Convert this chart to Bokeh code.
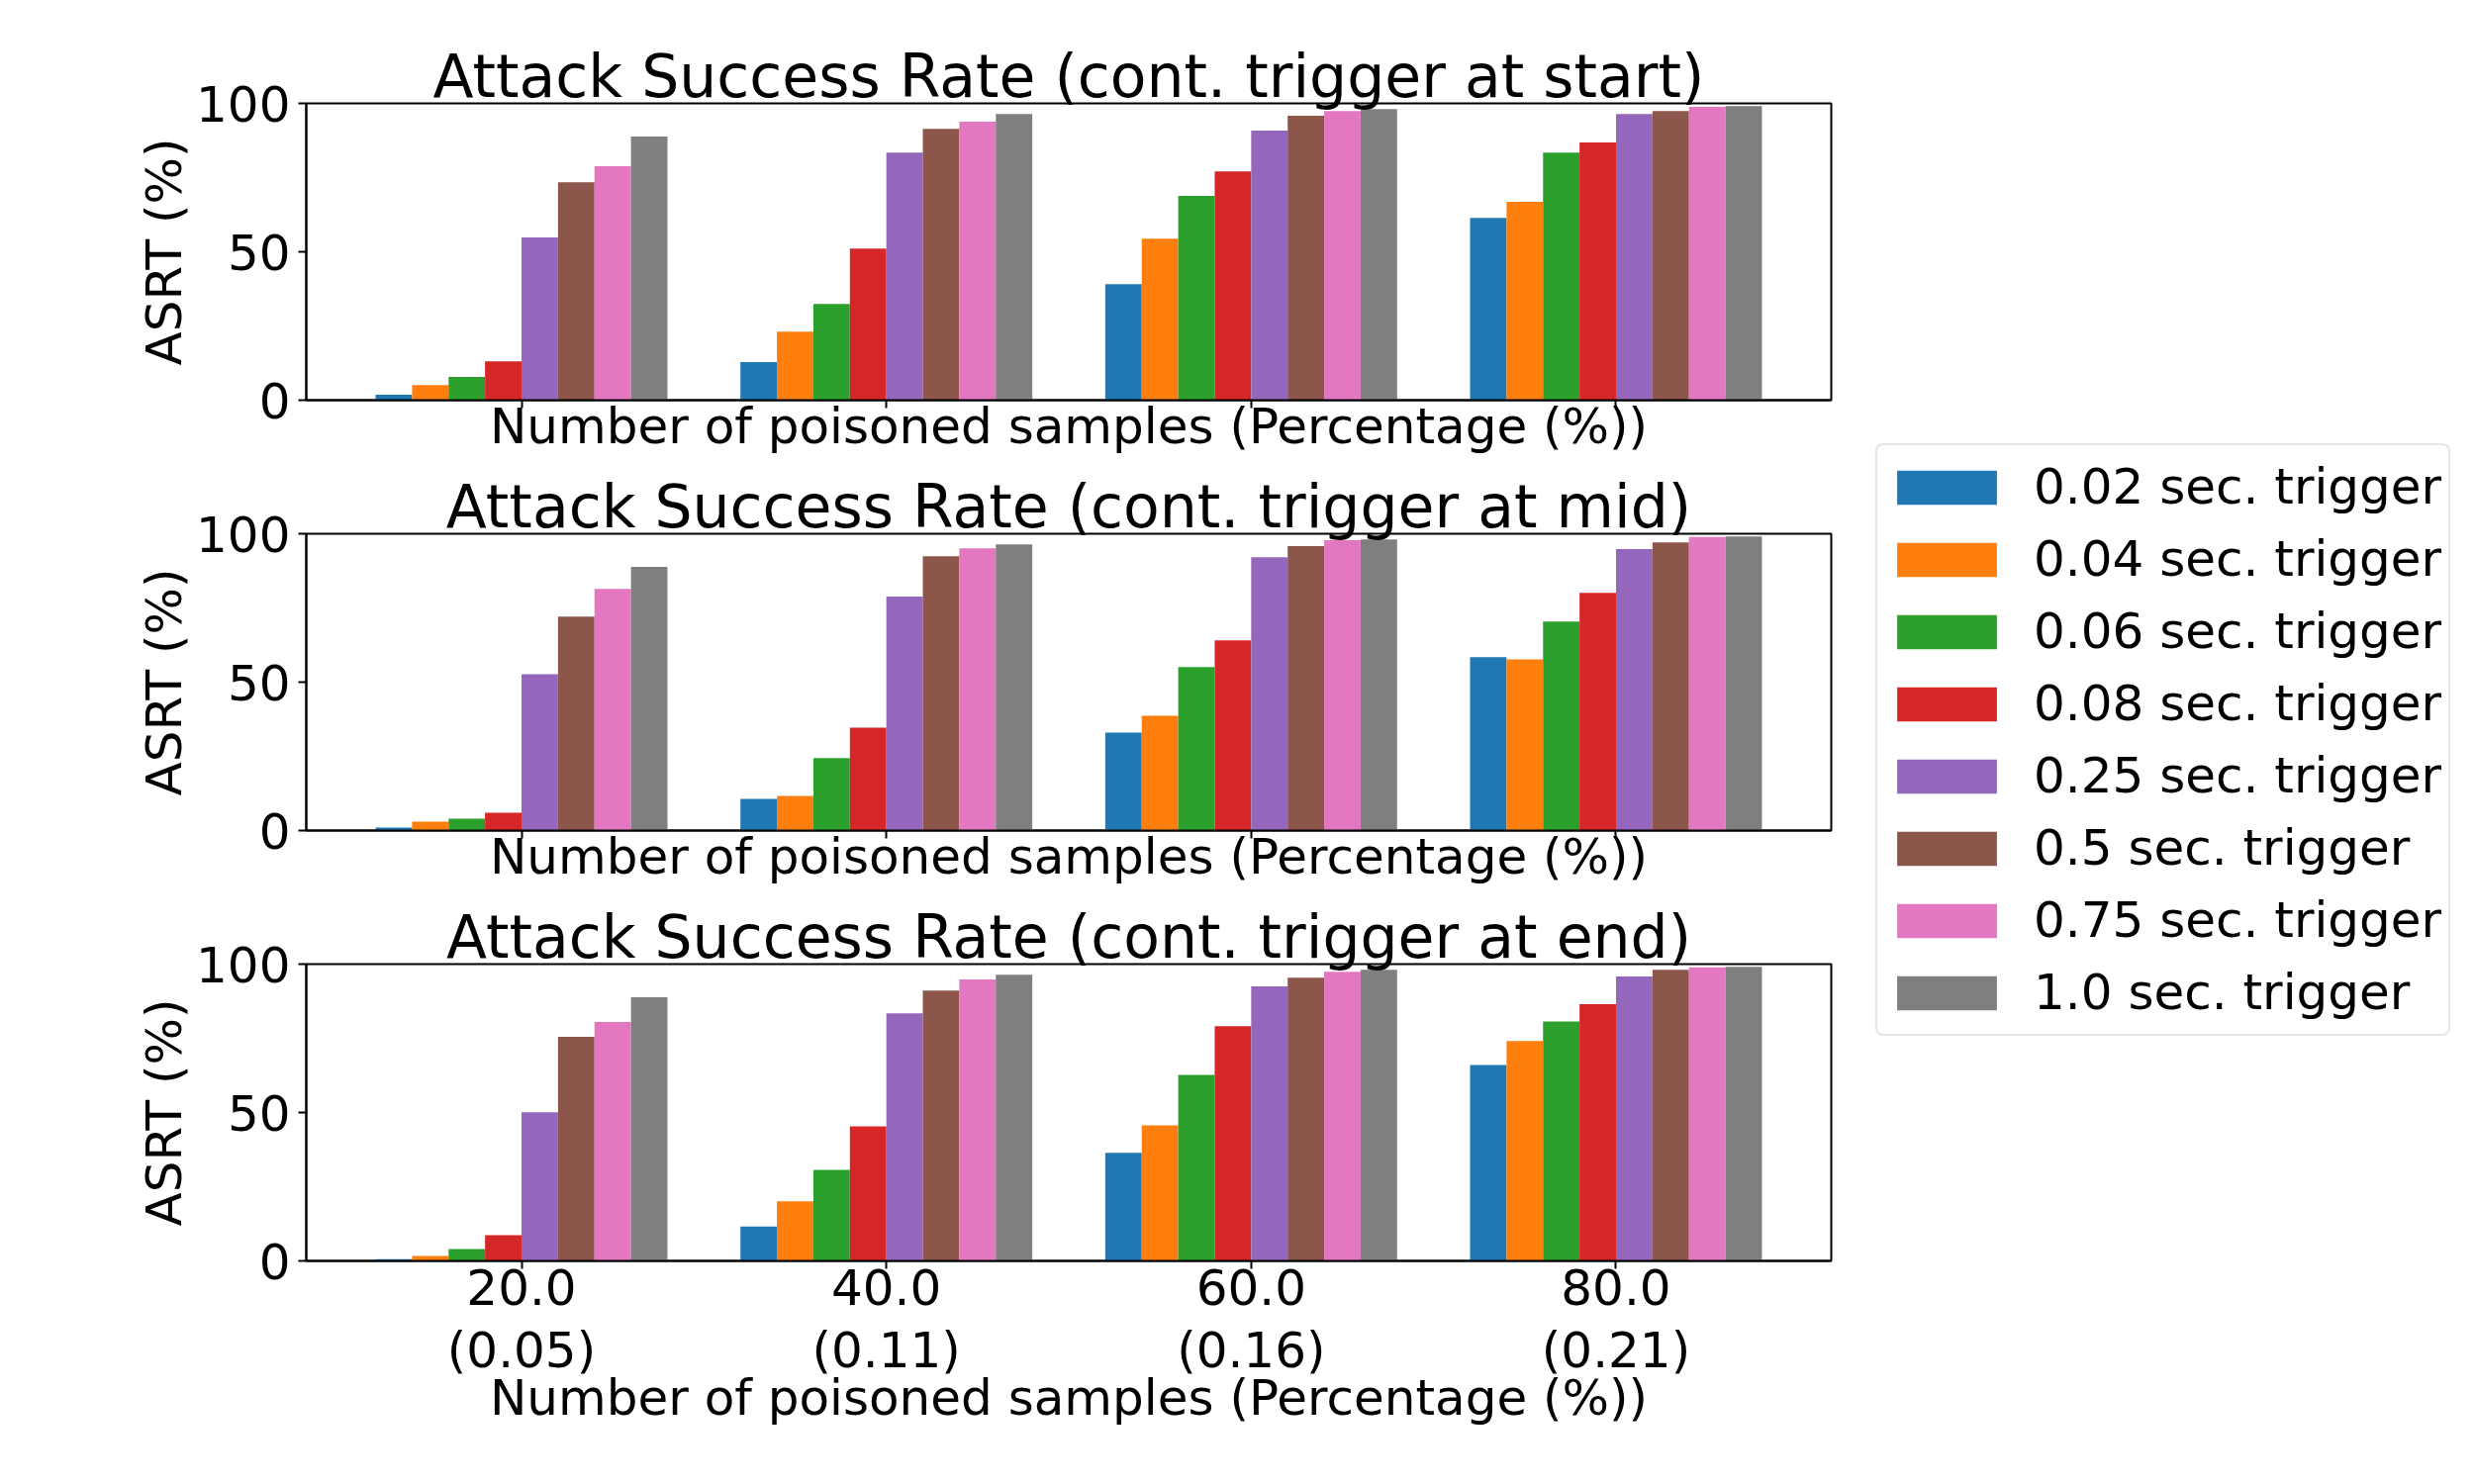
from bokeh.plotting import figure
from bokeh.layouts import row, column
from bokeh.models import FixedTicker, Range1d, Legend, LegendItem, ColumnDataSource
from bokeh.transform import dodge
from bokeh.embed import file_html
from bokeh.resources import INLINE

# ---------------- data ----------------
groups = [20, 40, 60, 80]
group_labels = ["20.0\n(0.05)", "40.0\n(0.11)", "60.0\n(0.16)", "80.0\n(0.21)"]
triggers = ["0.02 sec. trigger", "0.04 sec. trigger", "0.06 sec. trigger",
            "0.08 sec. trigger", "0.25 sec. trigger", "0.5 sec. trigger",
            "0.75 sec. trigger", "1.0 sec. trigger"]
colors = ["#1f77b4", "#ff7f0e", "#2ca02c", "#d62728",
          "#9467bd", "#8c564b", "#e377c2", "#7f7f7f"]
titles = ["Attack Success Rate (cont. trigger at start)",
          "Attack Success Rate (cont. trigger at mid)",
          "Attack Success Rate (cont. trigger at end)"]

# rows = groups (20, 40, 60, 80), columns = triggers
asr_start = [
    [1.8, 5.1, 7.8, 13.1, 54.8, 73.4, 78.8, 88.8],
    [12.8, 23.1, 32.4, 51.1, 83.4, 91.4, 93.8, 96.4],
    [39.1, 54.4, 68.8, 77.1, 90.8, 95.8, 97.4, 98.1],
    [61.4, 66.8, 83.4, 86.8, 96.4, 97.4, 98.8, 99.1],
]
asr_mid = [
    [1.0, 3.0, 4.0, 6.0, 52.7, 72.1, 81.4, 88.8],
    [10.7, 11.7, 24.4, 34.7, 78.8, 92.4, 95.1, 96.4],
    [33.0, 38.7, 55.1, 64.1, 92.1, 95.8, 97.8, 98.1],
    [58.4, 57.7, 70.4, 80.1, 94.8, 97.1, 98.9, 99.1],
]
asr_end = [
    [0.6, 1.7, 4.0, 8.7, 50.1, 75.5, 80.5, 88.8],
    [11.6, 20.1, 30.7, 45.3, 83.4, 91.1, 94.8, 96.4],
    [36.4, 45.7, 62.7, 79.1, 92.5, 95.4, 97.4, 98.1],
    [66.0, 74.1, 80.7, 86.5, 95.8, 98.1, 98.9, 99.1],
]
panels = [asr_start, asr_mid, asr_end]

x_label = "Number of poisoned samples (Percentage (%))"
y_label = "ASRT (%)"

FONT = "DejaVu Sans"
BAR_W = 2.0

# layout sizes (page px)
W_MAIN = 1878
borders = [  # top, bottom
    (104, 70),
    (65, 70),
    (65, 210),
]
FRAME_H = 300


def make_panel(idx):
    data = panels[idx]
    top_b, bot_b = borders[idx]
    p = figure(width=W_MAIN, height=top_b + FRAME_H + bot_b,
               output_backend="svg", toolbar_location=None,
               x_range=Range1d(8.2, 91.8), y_range=Range1d(0, 100),
               title=titles[idx])
    p.min_border = 0
    p.min_border_left = 309
    p.min_border_right = 28
    p.min_border_top = top_b
    p.min_border_bottom = bot_b

    src = {"x": groups}
    for i in range(len(triggers)):
        src["t%d" % i] = [row_[i] for row_ in data]
    source = ColumnDataSource(src)
    for i in range(len(triggers)):
        p.vbar(x=dodge("x", (i - 3.5) * BAR_W, range=p.x_range), top="t%d" % i,
               width=BAR_W, bottom=0, source=source,
               fill_color=colors[i], line_color=None)

    p.title.text_font = FONT
    p.title.text_font_size = "60px"
    p.title.text_font_style = "normal"
    p.title.text_color = "black"
    p.title.align = "center"
    p.title.standoff = -14

    p.xgrid.visible = False
    p.ygrid.visible = False
    p.outline_line_color = "black"
    p.outline_line_width = 2

    for ax in (p.xaxis, p.yaxis):
        ax.axis_line_color = "black"
        ax.axis_line_width = 2
        ax.major_tick_line_width = 2
        ax.major_tick_in = 0
        ax.major_tick_out = 8
        ax.minor_tick_line_color = None
        ax.major_label_text_font = FONT
        ax.major_label_text_font_size = "50px"
        ax.major_label_text_color = "black"
        ax.axis_label_text_font = FONT
        ax.axis_label_text_font_size = "50px"
        ax.axis_label_text_font_style = "normal"
        ax.axis_label_text_color = "black"

    p.yaxis.ticker = FixedTicker(ticks=[0, 50, 100])
    p.yaxis.major_label_standoff = 8
    p.yaxis.axis_label = y_label
    p.yaxis.axis_label_standoff = 0

    p.xaxis.ticker = FixedTicker(ticks=groups)
    p.xaxis.axis_label = x_label
    if idx < 2:
        p.xaxis.major_label_overrides = {g: "" for g in groups}
        p.xaxis.major_label_text_font_size = "1px"
        p.xaxis.major_label_standoff = 0
        p.xaxis.axis_label_standoff = -11
    else:
        p.xaxis.major_label_overrides = {g: lab for g, lab in zip(groups, group_labels)}
        p.xaxis.major_label_standoff = -10
        p.xaxis.major_label_text_line_height = 1.1
        p.xaxis.axis_label_standoff = -13
    return p


figs = [make_panel(i) for i in range(3)]

# legend figure
TOTAL_H = sum(b[0] + FRAME_H + b[1] for b in borders)
leg_fig = figure(width=2484 - W_MAIN, height=TOTAL_H, output_backend="svg",
                 toolbar_location=None, x_axis_type=None, y_axis_type=None,
                 x_range=Range1d(0, 1), y_range=Range1d(0, 1))
leg_fig.min_border = 0
leg_fig.outline_line_color = None
leg_fig.xgrid.visible = False
leg_fig.ygrid.visible = False
items = []
for i, lab in enumerate(triggers):
    # placeholder renderer outside the visible range: only its legend swatch shows
    r = leg_fig.vbar(x=[10], top=[1], width=1, fill_color=colors[i], line_color=None)
    items.append(LegendItem(label=lab, renderers=[r]))
legend = Legend(items=items, location=(17, 437))
legend.label_text_font = FONT
legend.label_text_font_size = "50px"
legend.label_text_color = "black"
legend.glyph_width = 126
legend.glyph_height = 43
legend.label_height = 70
legend.label_standoff = 25
legend.spacing = 3
legend.padding = 7
legend.margin = 0
legend.border_line_color = "#cccccc"
legend.border_line_width = 2
legend.background_fill_color = "white"
legend.background_fill_alpha = 1.0
try:
    legend.border_radius = 8
except Exception:
    pass
leg_fig.add_layout(legend, "center")

layout = row(column(*figs), leg_fig)

open("out.html", "w").write(file_html(layout, INLINE))
